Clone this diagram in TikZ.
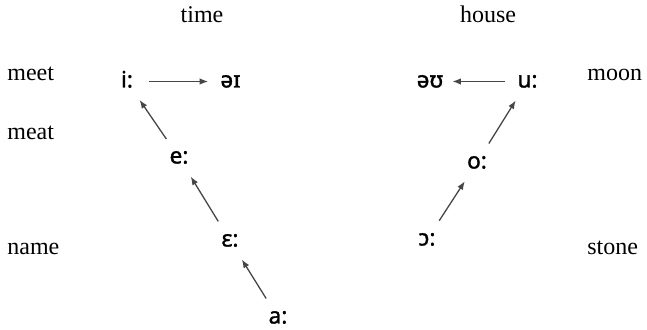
\documentclass[tikz,border=0pt]{standalone}
\usepackage{fontspec}
\setmainfont{Liberation Serif}
\newfontfamily\ipafont{Noto Sans}[FakeBold=1.4]
\usepackage{tikz}
\usetikzlibrary{arrows.meta,positioning}
\definecolor{shiftgray}{RGB}{70,70,70}
\tikzset{
    vowelbase/.style={
        circle,
        inner sep=0pt,
        minimum size=22pt,
        text height=6pt,
        text depth=0pt,
        font=\ipafont\fontsize{11.3}{13}\selectfont
    },
    vowelnode/.style={vowelbase},
    wordlabel/.style={anchor=base west, inner sep=0pt, font=\fontsize{12}{14}\selectfont},
    toplabel/.style={anchor=base, inner sep=0pt, font=\fontsize{12}{14}\selectfont},
    shiftline/.style={-{Latex[length=4.2pt,width=3.2pt]}, line width=0.65pt, draw=shiftgray},
}

\begin{document}
\begin{tikzpicture}[x=0.5pt,y=-0.5pt]
    \useasboundingbox (0,0) rectangle (647,330);

    % column headings and example words
    \node[toplabel] (time) at (202,23) {time};
    \node[toplabel] (house) at (488,23) {house};
    \node[wordlabel] (meet) at (7,81) {meet};
    \node[wordlabel] (meat) at (7,140) {meat};
    \node[wordlabel] (name) at (7,255) {name};
    \node[wordlabel] (moon) at (587,81) {moon};
    \node[wordlabel] (stone) at (587,255) {stone};

    % front vowels
    \node[vowelnode] (ii) at (127,81.5) {i:};
    \node[vowelnode] (ai) at (230.5,81.5) {əɪ};
    \node[vowelnode] (ee) at (179,157.5) {e:};
    \node[vowelnode] (eh) at (230,240.5) {ɛ:};
    \node[vowelnode] (aa) at (278,317.5) {a:};

    % back vowels
    \node[vowelnode] (au) at (430,81.5) {əʊ};
    \node[vowelnode] (uu) at (527.5,81.5) {u:};
    \node[vowelnode] (oo) at (477,162.5) {o:};
    \node[vowelnode] (oh) at (427,239.5) {ɔ:};

    \draw[shiftline] (ii) -- (ai);
    \draw[shiftline] (ee) -- (ii);
    \draw[shiftline] (eh) -- (ee);
    \draw[shiftline] (aa) -- (eh);

    \draw[shiftline] (uu) -- (au);
    \draw[shiftline] (oo) -- (uu);
    \draw[shiftline] (oh) -- (oo);
\end{tikzpicture}
\end{document}
